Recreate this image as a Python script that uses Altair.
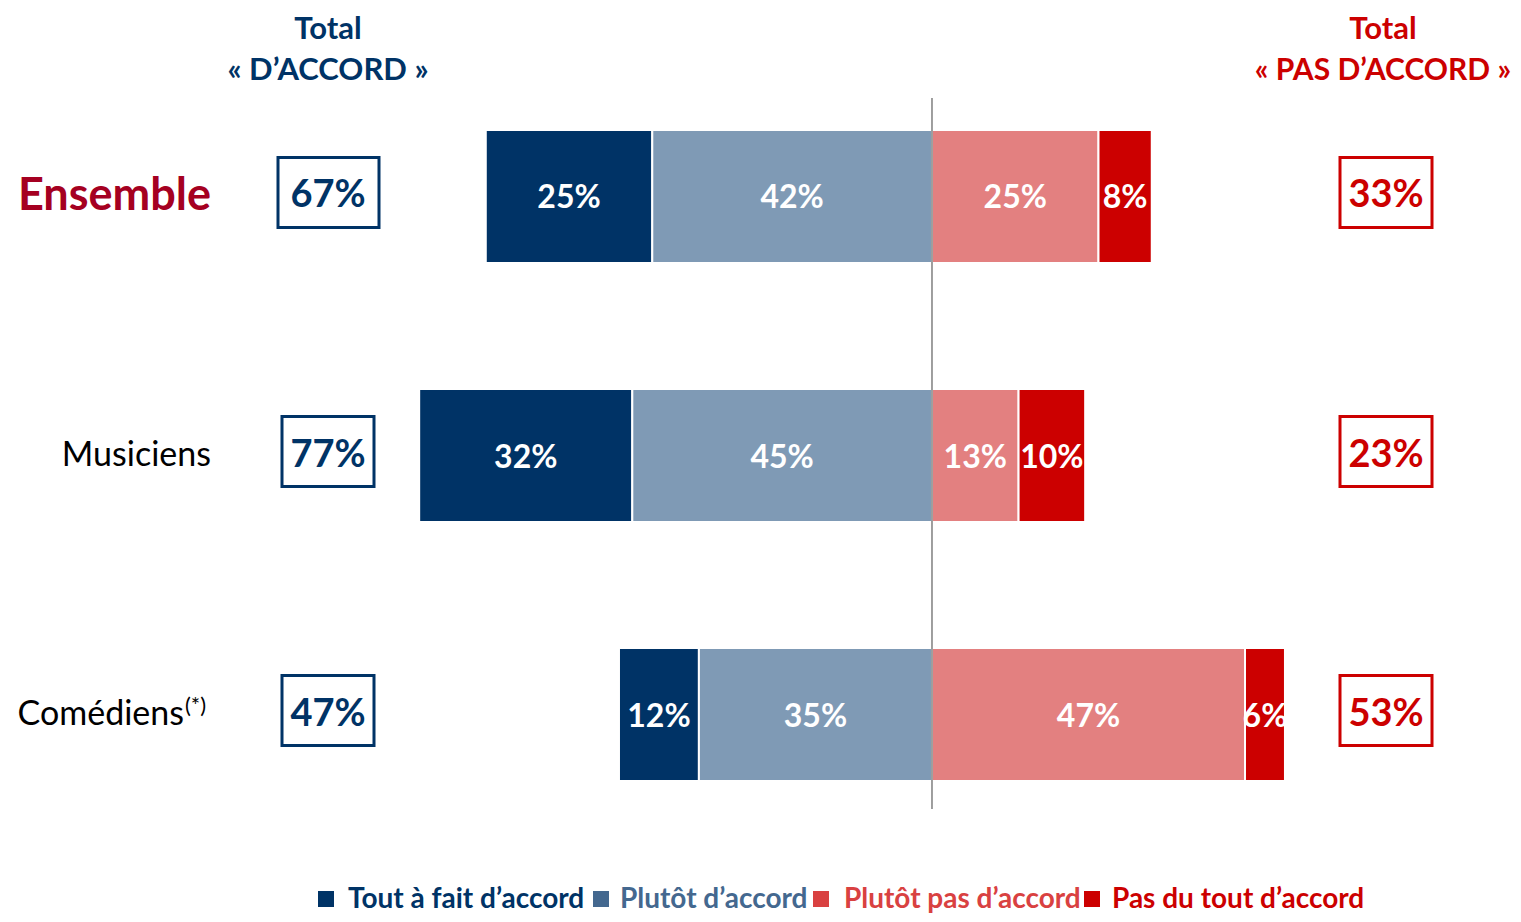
import altair as alt
import pandas as pd

# ---------------- data ----------------
groups = ["Ensemble", "Musiciens", "Comédiens"]
tout_a_fait = [25, 32, 12]        # Tout à fait d'accord
plutot = [42, 45, 35]             # Plutôt d'accord
plutot_pas = [25, 13, 47]         # Plutôt pas d'accord
pas_du_tout = [8, 10, 6]          # Pas du tout d'accord
categories = ["Tout à fait d’accord", "Plutôt d’accord",
              "Plutôt pas d’accord", "Pas du tout d’accord"]

# ---------------- styles ----------------
FONT = "Lato"
NAVY = "#003366"
RED = "#cc0000"
bar_colors = ["#003366", "#7f9ab5", "#e38080", "#cc0000"]
legend_colors = ["#003366", "#44688f", "#d94141", "#cc0000"]

W, H = 1505, 906

# ---------------- tables ----------------
seg_rows = []
for g, t, p, pp, pdt in zip(groups, tout_a_fait, plutot, plutot_pas, pas_du_tout):
    segs = [(categories[0], -(t + p), -p, t),
            (categories[1], -p, 0, p),
            (categories[2], 0, pp, pp),
            (categories[3], pp, pp + pdt, pdt)]
    for cat, a, b, v in segs:
        seg_rows.append({"group": g, "cat": cat, "x": a, "x2": b,
                         "mid": (a + b) / 2, "label": f"{v}%"})
seg = pd.DataFrame(seg_rows)

tot = pd.DataFrame({
    "group": groups,
    "agree": [f"{t + p}%" for t, p in zip(tout_a_fait, plutot)],
    "disagree": [f"{a + b}%" for a, b in zip(plutot_pas, pas_du_tout)],
})
# layout of the total boxes (pixels)
tot["lx1"] = [270, 274, 274]
tot["lx2"] = [371, 366, 366]
tot["rx1"] = [1332, 1332, 1332]
tot["rx2"] = [1424, 1424, 1424]

leg = pd.DataFrame({"cat": categories, "color": legend_colors})
leg["sx"] = [318, 593, 813, 1084]
leg["tx"] = [340, 612, 836, 1104]

xscale = alt.Scale(domain=[-138.74, 87.24], nice=False, zero=False)
yscale = alt.Scale(domain=groups, range=[122, 773], paddingInner=0.4865,
                   paddingOuter=0)
Y = alt.Y("group:N", scale=yscale, axis=None)

base = alt.Chart(seg)

bars = base.mark_bar(stroke="white", strokeWidth=2).encode(
    x=alt.X("x:Q", scale=xscale, axis=None),
    x2="x2:Q",
    y=Y,
    color=alt.Color("cat:N", scale=alt.Scale(domain=categories, range=bar_colors),
                    legend=None),
)

bar_text = base.mark_text(font=FONT, fontWeight="bold", fontSize=32,
                          color="white", baseline="middle", dy=2).encode(
    x=alt.X("mid:Q", scale=xscale, axis=None),
    y=Y,
    text="label:N",
)

center = alt.Chart(pd.DataFrame({"x": [0]})).mark_rule(
    color="#7f7f7f", strokeWidth=1.5).encode(
    x=alt.X("x:Q", scale=xscale, axis=None),
    y=alt.value(90), y2=alt.value(801),
)

lab = alt.Chart(tot)
ens_label = lab.transform_filter(alt.datum.group == "Ensemble").mark_text(
    font=FONT, fontWeight="bold", fontSize=45, color="#a50021",
    align="right", baseline="middle").encode(
    x=alt.value(203), y=Y, text="group:N")
mus_label = lab.transform_filter(alt.datum.group == "Musiciens").mark_text(
    font=FONT, fontSize=34, color="black",
    align="right", baseline="middle").encode(
    x=alt.value(203), y=Y, text="group:N")
com_label = lab.transform_filter(alt.datum.group == "Comédiens").mark_text(
    font=FONT, fontSize=34, color="black",
    align="right", baseline="middle").encode(
    x=alt.value(176), y=Y, text="group:N")
com_sup = lab.transform_filter(alt.datum.group == "Comédiens").mark_text(
    font=FONT, fontSize=22, color="black", text="(*)",
    align="left", baseline="middle", dy=-9).encode(
    x=alt.value(177), y=Y)

box_l = lab.mark_bar(fill="white", stroke=NAVY, strokeWidth=3,
                     height=alt.RelativeBandSize(70 / 133), yOffset=-4).encode(
    x=alt.X("lx1:Q", scale=None, axis=None), x2="lx2:Q", y=Y)
box_r = lab.mark_bar(fill="white", stroke=RED, strokeWidth=3,
                     height=alt.RelativeBandSize(70 / 133), yOffset=-4).encode(
    x=alt.X("rx1:Q", scale=None, axis=None), x2="rx2:Q", y=Y)
txt_l = lab.mark_text(font=FONT, fontWeight="bold", fontSize=38, color=NAVY,
                      baseline="middle", dy=0).encode(
    x=alt.value(320), y=Y, text="agree:N")
txt_r = lab.mark_text(font=FONT, fontWeight="bold", fontSize=38, color=RED,
                      baseline="middle", dy=0).encode(
    x=alt.value(1378), y=Y, text="disagree:N")

hdr = alt.Chart(pd.DataFrame({"a": [0]}))
h1 = hdr.mark_text(font=FONT, fontWeight="bold", fontSize=31, color=NAVY,
                   text="Total", baseline="middle").encode(
    x=alt.value(320), y=alt.value(22))
h2 = hdr.mark_text(font=FONT, fontWeight="bold", fontSize=31, color=NAVY,
                   text="« D’ACCORD »", baseline="middle").encode(
    x=alt.value(320), y=alt.value(63))
h3 = hdr.mark_text(font=FONT, fontWeight="bold", fontSize=31, color=RED,
                   text="Total", baseline="middle").encode(
    x=alt.value(1375), y=alt.value(22))
h4 = hdr.mark_text(font=FONT, fontWeight="bold", fontSize=30, color=RED,
                   text="« PAS D’ACCORD »", baseline="middle").encode(
    x=alt.value(1375), y=alt.value(63))

lg = alt.Chart(leg)
leg_sq = lg.mark_square(size=256, opacity=1).encode(
    x=alt.X("sx:Q", scale=None, axis=None),
    y=alt.value(891),
    color=alt.Color("color:N", scale=None),
)
leg_tx = lg.mark_text(font=FONT, fontWeight="bold", fontSize=28,
                      align="left", baseline="alphabetic").encode(
    x=alt.X("tx:Q", scale=None, axis=None),
    y=alt.value(900),
    text="cat:N",
    color=alt.Color("color:N", scale=None),
)

chart = alt.layer(
    bars, bar_text, center, ens_label, mus_label, com_label, com_sup,
    box_l, box_r, txt_l, txt_r, h1, h2, h3, h4, leg_sq, leg_tx,
).properties(
    width=W, height=H,
    autosize=alt.AutoSizeParams(type="none"),
    padding=0,
    background="white",
).configure_view(stroke=None, strokeWidth=0)

chart.save("out.html", embed_options={"renderer": "svg", "actions": False})
